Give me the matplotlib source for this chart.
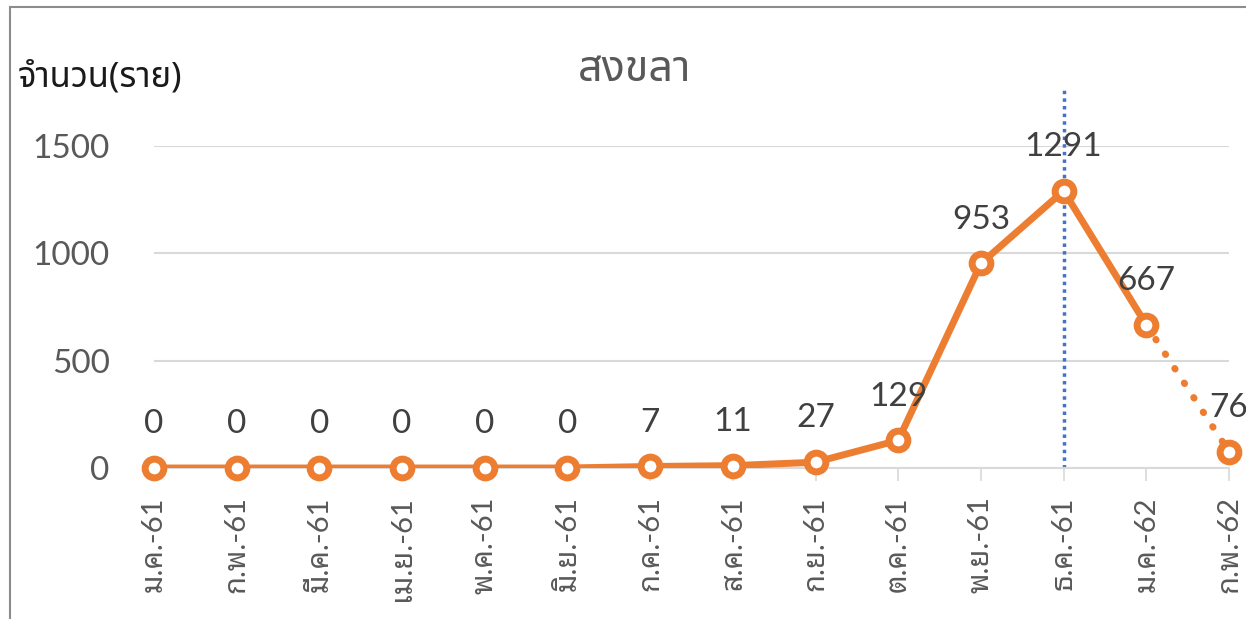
import matplotlib
matplotlib.use('Agg')
from matplotlib import pyplot as plt
from matplotlib.patches import Rectangle

months = ['ม.ค.-61', 'ก.พ.-61', 'มี.ค.-61', 'เม.ย.-61', 'พ.ค.-61', 'มิ.ย.-61', 'ก.ค.-61',
          'ส.ค.-61', 'ก.ย.-61', 'ต.ค.-61', 'พ.ย.-61', 'ธ.ค.-61', 'ม.ค.-62', 'ก.พ.-62']
cases = [0, 0, 0, 0, 0, 0, 7, 11, 27, 129, 953, 1291, 667, 76]
yticks = [0, 500, 1000, 1500]
peak_month = 'ธ.ค.-61'

ORANGE = '#ED7D31'
BLUE = '#4472C4'
W, H = 1246, 619

fig = plt.figure(figsize=(W / 100, H / 100), dpi=100)
fig.patches.append(Rectangle((10 / W, -0.1), 1.2, 1 - 7 / H + 0.1, transform=fig.transFigure,
                             fill=False, edgecolor='#8c8c8c', linewidth=1.5))

ax = fig.add_axes([154 / W, 1 - 468 / H, (1229 - 154) / W, (468 - 146) / H])
x = list(range(len(months)))

# solid part, last month dotted (preliminary)
ax.plot(x[:-1], cases[:-1], color=ORANGE, lw=5, solid_joinstyle='round', zorder=3)
ax.plot(x[-2:], cases[-2:], color=ORANGE, lw=5, linestyle=(0, (0.1, 2.4)),
        dash_capstyle='round', zorder=3)
ax.plot(x, cases, linestyle='none', marker='o', ms=13.5, mew=5, mec=ORANGE, mfc='white',
        zorder=4, clip_on=False)

for xi, v in zip(x, cases):
    ax.annotate(str(v), (xi, v), xytext=(0, 25), textcoords='offset points', ha='center',
                va='baseline', fontsize=24, color='#404040', family=['Lato'], zorder=5)

px = months.index(peak_month)
ax.plot([px, px], [0, 1770], color=BLUE, lw=2.5, linestyle=(0, (1, 1.2)), clip_on=False, zorder=2)

ax.set_xlim(0, len(months) - 1)
ax.set_ylim(0, 1500)
ax.set_yticks(yticks)
ax.set_xticks(x)
ax.set_xticklabels(months, rotation=90, family=['Lato', 'Noto Sans Thai Looped'],
                   fontsize=21, color='#595959')
for lab in ax.get_yticklabels():
    lab.set_family(['Lato'])
ax.tick_params(axis='y', length=0, pad=32, labelsize=24, labelcolor='#595959')
ax.tick_params(axis='x', length=9.5, width=1.2, color='#d9d9d9', pad=11)
ax.grid(axis='y', color='#d9d9d9', lw=1.5)
ax.set_axisbelow(True)
for s in ['top', 'right', 'left']:
    ax.spines[s].set_visible(False)
ax.spines['bottom'].set_color('#d9d9d9')
ax.spines['bottom'].set_linewidth(1.5)

fig.text(635 / W, 1 - 70 / H, 'สงขลา', ha='center', va='center', fontsize=31,
         color='#595959', family=['Noto Sans Thai'])
fig.text(18 / W, 1 - 78 / H, 'จำนวน(ราย)', ha='left', va='center', fontsize=25,
         fontweight='bold', color='#1a1a1a', family=['Noto Sans Thai'])

fig.savefig('out.png', dpi=100)
